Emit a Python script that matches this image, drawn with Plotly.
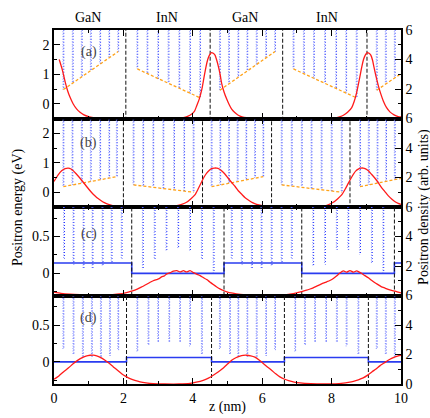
import plotly.graph_objects as go

# ---------------- data ----------------
# Positron density (arb. units) along z (nm), one curve per panel
z_rho_a = [0.15, 0.24, 0.32, 0.39, 0.46, 0.55, 0.65, 0.75, 0.85, 1.0, 1.13, 1.3, 1.6, 2.0, 2.5,
           3.0, 3.4, 3.73, 3.85, 3.97, 4.05, 4.11, 4.19, 4.26, 4.32, 4.38, 4.43, 4.48, 4.54, 4.59,
           4.64, 4.69, 4.74, 4.79, 4.83, 4.90, 4.98, 5.05, 5.12, 5.21, 5.31, 5.42, 5.55, 5.8, 6.2,
           6.6, 7.0, 7.4, 7.8, 8.15, 8.25, 8.34, 8.46, 8.58, 8.65, 8.72, 8.80, 8.87, 8.92, 8.97,
           9.03, 9.08, 9.13, 9.18, 9.22, 9.28, 9.35, 9.42, 9.49, 9.58, 9.68, 9.80, 9.92, 10.0]
rho_a = [4.0, 3.3, 2.5, 1.9, 1.45, 1.0, 0.65, 0.42, 0.26, 0.12, 0.06, 0.02, 0.0, 0.0, 0.0,
         0.0, 0.01, 0.05, 0.14, 0.3, 0.5, 0.85, 1.35, 1.97, 2.75, 3.5, 4.0, 4.3, 4.47, 4.42,
         4.3, 3.95, 3.5, 2.95, 2.4, 1.8, 1.3, 0.93, 0.63, 0.4, 0.22, 0.11, 0.05, 0.01, 0.0,
         0.0, 0.0, 0.0, 0.01, 0.06, 0.12, 0.22, 0.42, 0.74, 1.15, 1.74, 2.65, 3.5, 4.0, 4.3,
         4.47, 4.42, 4.3, 3.95, 3.5, 2.85, 2.2, 1.65, 1.19, 0.75, 0.45, 0.25, 0.13, 0.1]

z_rho_b = [0, 0.12, 0.22, 0.32, 0.41, 0.49, 0.56, 0.65, 0.75, 0.85, 0.94, 1.04, 1.13, 1.23, 1.33,
           1.45, 1.57, 1.81, 2.2, 2.6, 3.0, 3.3, 3.54, 3.68, 3.82, 3.94, 4.06, 4.16, 4.26, 4.33,
           4.40, 4.47, 4.54, 4.62, 4.69, 4.76, 4.83, 4.93, 5.02, 5.12, 5.22, 5.31, 5.41, 5.5, 5.6,
           5.72, 5.84, 6.13, 6.5, 7.0, 7.4, 7.76, 7.9, 8.05, 8.17, 8.29, 8.39, 8.48, 8.56, 8.63,
           8.70, 8.77, 8.84, 8.91, 8.98, 9.06, 9.15, 9.25, 9.35, 9.44, 9.54, 9.63, 9.73, 9.83, 9.92,
           10.0]
rho_b = [1.73, 2.18, 2.45, 2.6, 2.64, 2.58, 2.45, 2.22, 1.95, 1.66, 1.39, 1.1, 0.86, 0.65, 0.48,
         0.3, 0.18, 0.05, 0.01, 0.0, 0.01, 0.04, 0.09, 0.18, 0.32, 0.55, 0.82, 1.25, 1.73, 2.05,
         2.3, 2.48, 2.6, 2.64, 2.64, 2.58, 2.45, 2.22, 1.95, 1.66, 1.39, 1.1, 0.86, 0.65, 0.48,
         0.3, 0.18, 0.05, 0.01, 0.0, 0.01, 0.05, 0.15, 0.32, 0.55, 0.82, 1.2, 1.6, 1.95, 2.23,
         2.45, 2.57, 2.63, 2.64, 2.58, 2.45, 2.22, 1.95, 1.63, 1.32, 1.03, 0.77, 0.55, 0.36, 0.25,
         0.18]

z_rho_c = [0, 0.2, 0.46, 0.75, 1.04, 1.4, 1.6, 1.81, 2.0, 2.14, 2.26, 2.38, 2.47, 2.57, 2.67,
           2.77, 2.86, 2.96, 3.03, 3.1, 3.18, 3.25, 3.35, 3.44, 3.54, 3.63, 3.73, 3.82, 3.92, 4.02,
           4.11, 4.21, 4.3, 4.4, 4.5, 4.59, 4.69, 4.78, 4.88, 4.98, 5.1, 5.26, 5.45, 5.65, 6.0,
           6.3, 6.61, 6.8, 6.99, 7.14, 7.28, 7.38, 7.47, 7.57, 7.67, 7.76, 7.86, 7.95, 8.05, 8.15,
           8.24, 8.34, 8.43, 8.53, 8.63, 8.72, 8.8, 8.87, 8.96, 9.06, 9.15, 9.25, 9.35, 9.44, 9.54,
           9.63, 9.73, 9.83, 9.92, 10.0]
rho_c = [0.23, 0.15, 0.09, 0.05, 0.02, 0.02, 0.04, 0.09, 0.15, 0.23, 0.31, 0.41, 0.52, 0.63, 0.76,
         0.9, 1.0, 1.08, 1.14, 1.26, 1.33, 1.47, 1.55, 1.65, 1.69, 1.6, 1.68, 1.6, 1.68, 1.55,
         1.45, 1.35, 1.22, 1.08, 0.9, 0.74, 0.58, 0.45, 0.34, 0.25, 0.17, 0.11, 0.05, 0.02, 0.01,
         0.02, 0.05, 0.1, 0.18, 0.27, 0.36, 0.44, 0.52, 0.63, 0.74, 0.84, 0.93, 1.02, 1.15, 1.34,
         1.53, 1.67, 1.58, 1.69, 1.58, 1.67, 1.58, 1.49, 1.35, 1.2, 1.03, 0.86, 0.72, 0.59, 0.5,
         0.41, 0.34, 0.29, 0.23, 0.18]

z_rho_d = [0, 0.14, 0.27, 0.42, 0.56, 0.68, 0.8, 0.92, 1.04, 1.13, 1.23, 1.35, 1.47, 1.59, 1.71,
           1.83, 1.95, 2.07, 2.19, 2.33, 2.48, 2.65, 2.86, 3.2, 3.6, 3.92, 4.1, 4.3, 4.45, 4.59,
           4.74, 4.88, 5.0, 5.12, 5.24, 5.36, 5.45, 5.55, 5.67, 5.79, 5.91, 6.03, 6.15, 6.27, 6.39,
           6.51, 6.63, 6.76, 6.92, 7.09, 7.4, 7.8, 8.1, 8.34, 8.48, 8.63, 8.77, 8.91, 9.04, 9.16,
           9.28, 9.39, 9.51, 9.63, 9.73, 9.83, 9.92, 10.0]
rho_d = [0.32, 0.55, 0.82, 1.1, 1.39, 1.6, 1.77, 1.89, 1.95, 1.96, 1.91, 1.79, 1.61, 1.4, 1.16,
         0.93, 0.7, 0.52, 0.36, 0.24, 0.14, 0.07, 0.02, 0.0, 0.0, 0.04, 0.12, 0.25, 0.4, 0.59,
         0.83, 1.09, 1.35, 1.61, 1.78, 1.89, 1.94, 1.95, 1.91, 1.82, 1.63, 1.39, 1.16, 0.93, 0.69,
         0.48, 0.34, 0.23, 0.13, 0.07, 0.02, 0.0, 0.01, 0.06, 0.11, 0.18, 0.28, 0.41, 0.6, 0.82,
         1.02, 1.23, 1.42, 1.61, 1.74, 1.84, 1.91, 1.95]

# Atomic-plane potential minima: positions (nm) and well-bottom energies (eV)
well_z_a = [0.27, 0.54, 0.80, 1.06, 1.33, 1.59, 1.85,
            2.40, 2.69, 3.00, 3.30, 3.61, 3.92, 4.21,
            4.78, 5.04, 5.31, 5.57, 5.84, 6.11, 6.37,
            6.90, 7.20, 7.49, 7.81, 8.13, 8.42, 8.72,
            9.30, 9.56, 9.82]
well_e_a = [0.48, 0.70, 0.91, 1.13, 1.35, 1.56, 1.77,
            1.18, 1.02, 0.85, 0.69, 0.52, 0.35, 0.20,
            0.46, 0.67, 0.89, 1.10, 1.32, 1.55, 1.77,
            1.18, 1.02, 0.86, 0.69, 0.52, 0.36, 0.20,
            0.46, 0.67, 0.89]

well_z_b = [0.27, 0.53, 0.80, 1.06, 1.33, 1.59, 1.81,
            2.29, 2.57, 2.86, 3.15, 3.46, 3.75, 4.02,
            4.54, 4.79, 5.04, 5.29, 5.54, 5.79, 6.03,
            6.56, 6.85, 7.14, 7.42, 7.71, 8.00, 8.29,
            8.82, 9.07, 9.32, 9.57, 9.82]
well_e_b = [0.19, 0.25, 0.31, 0.37, 0.43, 0.48, 0.53,
            0.25, 0.21, 0.17, 0.13, 0.09, 0.04, 0.0,
            0.19, 0.25, 0.31, 0.36, 0.42, 0.48, 0.53,
            0.25, 0.21, 0.17, 0.13, 0.08, 0.04, 0.0,
            0.19, 0.25, 0.31, 0.36, 0.42]

well_z_c = [0.29, 0.56, 0.85, 1.11, 1.40, 1.66, 1.95,
            2.56, 2.90, 3.24, 3.58, 3.92, 4.26, 4.60,
            5.12, 5.41, 5.70, 5.98, 6.27, 6.56, 6.85,
            7.47, 7.81, 8.15, 8.48, 8.82, 9.16, 9.49]
well_e_c = [0.20, 0.12, 0.06, 0.07, 0.10, 0.15, 0.20,
            0.05, 0.19, 0.30, 0.34, 0.30, 0.19, 0.01,
            0.20, 0.12, 0.06, 0.07, 0.10, 0.15, 0.20,
            0.10, 0.12, 0.32, 0.32, 0.25, 0.14, 0.01]

well_z_d = [0.27, 0.56, 0.83, 1.09, 1.35, 1.61, 1.85,
            2.40, 2.72, 3.00, 3.32, 3.63, 3.92, 4.26,
            4.78, 5.07, 5.31, 5.57, 5.84, 6.11, 6.37,
            6.95, 7.23, 7.52, 7.84, 8.15, 8.43, 8.77,
            9.30, 9.56, 9.82]
well_e_d = [0.17, 0.10, 0.05, 0.05, 0.05, 0.08, 0.16,
            0.14, 0.23, 0.27, 0.27, 0.27, 0.21, 0.09,
            0.17, 0.10, 0.05, 0.05, 0.05, 0.08, 0.16,
            0.14, 0.23, 0.27, 0.27, 0.27, 0.21, 0.09,
            0.17, 0.10, 0.05]

# Layer-averaged potential slopes (eV): (z_start, E_start, z_end, E_end)
slope_a = [(0.27, 0.48, 1.85, 1.77), (2.40, 1.18, 4.21, 0.20), (4.78, 0.46, 6.37, 1.77),
           (6.90, 1.18, 8.72, 0.20), (9.30, 0.46, 9.95, 0.98)]
slope_b = [(0.27, 0.19, 1.81, 0.53), (2.29, 0.25, 4.02, 0.0), (4.54, 0.19, 6.03, 0.53),
           (6.56, 0.25, 8.29, 0.0), (8.82, 0.19, 10.0, 0.47)]

# Flat-band average potential (eV) in panels (c) and (d)
step_z_c = [0, 2.24, 4.9, 7.14, 9.81, 10.0]
step_e_c = [0.14, 0.0, 0.14, 0.0, 0.14, 0.14]
step_z_d = [0, 2.09, 4.54, 6.64, 9.06, 10.0]
step_e_d = [0.0, 0.06, 0.0, 0.06, 0.0, 0.0]

# GaN/InN interfaces (nm)
iface_a = [2.07, 4.50, 6.59, 9.02]
iface_b = [2.00, 4.28, 6.27, 8.53]
iface_c = [2.24, 4.90, 7.14, 9.81]
iface_d = [2.09, 4.54, 6.64, 9.06]

layer_names = ["GaN", "InN", "GaN", "InN"]
layer_name_z = [0.98, 3.26, 5.50, 7.87]
panel_tags = ["(a)", "(b)", "(c)", "(d)"]

# ---------------- figure ----------------
FONT = "Liberation Serif"
fig = go.Figure()

panels = [
    dict(rho_z=z_rho_a, rho=rho_a, wz=well_z_a, we=well_e_a, slope=slope_a, step=None,
         iface=iface_a, yr=[-0.5, 2.5], dt=1, mdt=0.5, tag_y=1.75),
    dict(rho_z=z_rho_b, rho=rho_b, wz=well_z_b, we=well_e_b, slope=slope_b, step=None,
         iface=iface_b, yr=[-0.5, 2.5], dt=1, mdt=0.5, tag_y=1.66),
    dict(rho_z=z_rho_c, rho=rho_c, wz=well_z_c, we=well_e_c, slope=None,
         step=(step_z_c, step_e_c), iface=iface_c, yr=[-0.3, 0.9], dt=0.5, mdt=0.25, tag_y=0.53),
    dict(rho_z=z_rho_d, rho=rho_d, wz=well_z_d, we=well_e_d, slope=None,
         step=(step_z_d, step_e_d), iface=iface_d, yr=[-0.3, 0.9], dt=0.5, mdt=0.25, tag_y=0.60),
]

domains = [[0.75, 1.0], [0.5, 0.75], [0.25, 0.5], [0.0, 0.25]]
TOP = 50.0
half = 0.012

for i, p in enumerate(panels):
    xa = "x" if i == 0 else f"x{i+1}"
    yl = "y" if i == 0 else f"y{2*i+1}"
    yr_ = f"y{2*i+2}"

    # potential wells as narrow dotted spikes (falling and rising edge)
    xs_dn, ys_dn, xs_up, ys_up = [], [], [], []
    for z0, e0 in zip(p["wz"], p["we"]):
        xs_dn += [z0 - half, z0 - half, None]
        ys_dn += [TOP, e0, None]
        xs_up += [z0 + half, z0 + half, None]
        ys_up += [TOP, e0, None]
    fig.add_trace(go.Scatter(x=xs_dn, y=ys_dn, xaxis=xa, yaxis=yl, mode="lines",
                             line=dict(color="#8c96ff", width=1, dash="1px,1.5px"),
                             hoverinfo="skip", showlegend=False))
    fig.add_trace(go.Scatter(x=xs_up, y=ys_up, xaxis=xa, yaxis=yl, mode="lines",
                             line=dict(color="#2233ff", width=1, dash="1px,2px"),
                             hoverinfo="skip", showlegend=False))

    if p["slope"]:
        xs, ys = [], []
        for z0, e0, z1, e1 in p["slope"]:
            xs += [z0, z1, None]
            ys += [e0, e1, None]
        fig.add_trace(go.Scatter(x=xs, y=ys, xaxis=xa, yaxis=yl, mode="lines",
                                 line=dict(color="#ffa31a", width=1.3, dash="3px,2px"),
                                 hoverinfo="skip", showlegend=False))
    if p["step"]:
        fig.add_trace(go.Scatter(x=p["step"][0], y=p["step"][1], xaxis=xa, yaxis=yl,
                                 mode="lines", line=dict(color="#2a3cf0", width=1.6, shape="hv"),
                                 hoverinfo="skip", showlegend=False))

    xs, ys = [], []
    for z0 in p["iface"]:
        xs += [z0, z0, None]
        ys += [-TOP, TOP, None]
    fig.add_trace(go.Scatter(x=xs, y=ys, xaxis=xa, yaxis=yl, mode="lines",
                             line=dict(color="#111111", width=1, dash="4px,2px"),
                             hoverinfo="skip", showlegend=False))

    fig.add_trace(go.Scatter(x=p["rho_z"], y=p["rho"], xaxis=xa, yaxis=yr_, mode="lines",
                             line=dict(color="#ff1a1a", width=1.3, shape="spline", smoothing=0.6),
                             hoverinfo="skip", showlegend=False))

    axis_common = dict(showline=True, linecolor="black", linewidth=1.5, ticks="inside",
                       tickcolor="black", showgrid=False, zeroline=False,
                       tickfont=dict(family=FONT, size=14, color="black"))

    fig.layout[("xaxis" if i == 0 else f"xaxis{i+1}")] = dict(
        axis_common, domain=[0, 1], anchor=yl, range=[0, 10], dtick=2, tick0=0, ticklen=6,
        mirror="ticks", showticklabels=(i == 3),
        minor=dict(dtick=1, tick0=0, ticklen=3, ticks="inside", tickcolor="black"),
        **({} if i == 0 else {"matches": "x"}))
    fig.layout[("yaxis" if i == 0 else f"yaxis{2*i+1}")] = dict(
        axis_common, domain=domains[i], anchor=xa, range=p["yr"], dtick=p["dt"], tick0=0,
        ticklen=6, minor=dict(dtick=p["mdt"], tick0=0, ticklen=3, ticks="inside",
                              tickcolor="black"))
    fig.layout[f"yaxis{2*i+2}"] = dict(
        axis_common, anchor=xa, overlaying=yl, side="right", range=[0, 6],
        tickvals=[0, 2, 4, 6], ticktext=(["0", "2", "4", "6"] if i == 3 else ["", "2", "4", "6"]),
        ticklen=6, minor=dict(dtick=1, tick0=0, ticklen=3, ticks="inside", tickcolor="black"))

    fig.add_annotation(x=1.0, y=p["tag_y"], xref=xa, yref=yl, text=panel_tags[i],
                       showarrow=False, font=dict(family=FONT, size=14, color="#444444"))

for name, zc in zip(layer_names, layer_name_z):
    fig.add_annotation(x=zc, y=1.035, xref="x", yref="paper", text=name, showarrow=False,
                       yanchor="middle", font=dict(family=FONT, size=14, color="black"))

fig.add_annotation(x=0.5, y=-0.064, xref="paper", yref="paper", text="z (nm)", showarrow=False,
                   yanchor="middle", font=dict(family=FONT, size=14, color="black"))
fig.add_annotation(x=-0.104, y=0.5, xref="paper", yref="paper", text="Positron energy (eV)",
                   textangle=-90, showarrow=False, xanchor="center",
                   font=dict(family=FONT, size=14, color="black"))
fig.add_annotation(x=1.066, y=0.5, xref="paper", yref="paper",
                   text="Positron density (arb. units)", textangle=-90, showarrow=False,
                   xanchor="center", font=dict(family=FONT, size=14, color="black"))

fig.update_layout(width=430, height=418, margin=dict(l=54, r=29, t=30, b=31),
                  paper_bgcolor="white", plot_bgcolor="white", showlegend=False)

fig.write_html("out.html")
